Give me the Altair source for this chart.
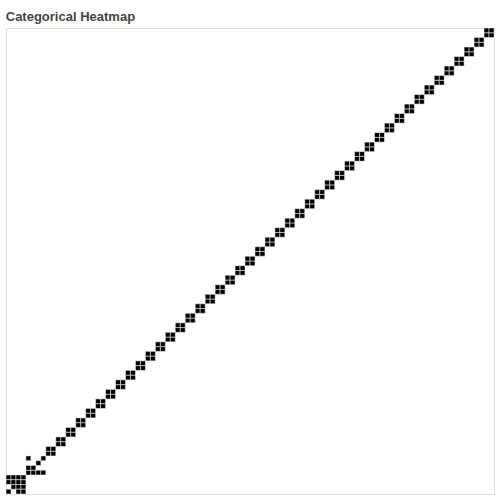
import altair as alt
import pandas as pd

# Category labels for both axes
categories = [f"C{i:02d}" for i in range(98)]

# 2x2 filled blocks along the diagonal: lower-left cell (column index, row index)
block_cols = [8, 10, 12, 14, 16, 18, 20, 22, 24, 26, 28, 30, 32, 34, 36, 38, 40, 42, 44, 46,
              48, 50, 52, 54, 56, 58, 60, 62, 64, 66, 68, 70, 72, 74, 76, 78, 80, 82, 84, 86,
              88, 90, 92, 94, 96]
block_rows = [8, 10, 12, 14, 16, 18, 20, 22, 24, 26, 28, 30, 32, 34, 36, 38, 40, 42, 44, 46,
              48, 50, 52, 54, 56, 58, 60, 62, 64, 66, 68, 70, 72, 74, 76, 78, 80, 82, 84, 86,
              88, 90, 92, 94, 96]

# Individual filled cells in the lower-left cluster
single_cols = [0, 1, 2, 3, 0, 1, 2, 3, 1, 2, 3, 0, 2, 3, 4, 5, 6, 7, 4, 5, 6, 4, 7, 8]
single_rows = [3, 3, 3, 3, 2, 2, 2, 2, 1, 1, 1, 0, 0, 0, 4, 4, 4, 4, 5, 5, 6, 7, 7, 9]

cells = []
for c, r in zip(block_cols, block_rows):
    for dc in (0, 1):
        for dr in (0, 1):
            cells.append((categories[c + dc], categories[r + dr]))
for c, r in zip(single_cols, single_rows):
    cells.append((categories[c], categories[r]))

df = pd.DataFrame(cells, columns=["x", "y"]).drop_duplicates()
df["v"] = "present"

chart = (
    alt.Chart(df)
    .mark_rect(stroke="white", strokeWidth=0.5)
    .encode(
        x=alt.X("x:O", axis=None, scale=alt.Scale(domain=categories, paddingInner=0, paddingOuter=0)),
        y=alt.Y("y:O", axis=None, scale=alt.Scale(domain=categories[::-1], paddingInner=0, paddingOuter=0)),
        color=alt.Color("v:N", scale=alt.Scale(range=["#000000"]), legend=None),
    )
    .properties(
        width=500,
        height=500,
        padding={"left": 5, "top": 10, "right": 5, "bottom": 5},
        title=alt.TitleParams("Categorical Heatmap", anchor="start", fontSize=13,
                              font="Liberation Sans", color="#444444"),
        autosize=alt.AutoSizeParams(type="fit", contains="padding"),
    )
    .configure_view(stroke="#dddddd")
)

chart.save("out.html", embed_options={"renderer": "svg", "actions": False})
